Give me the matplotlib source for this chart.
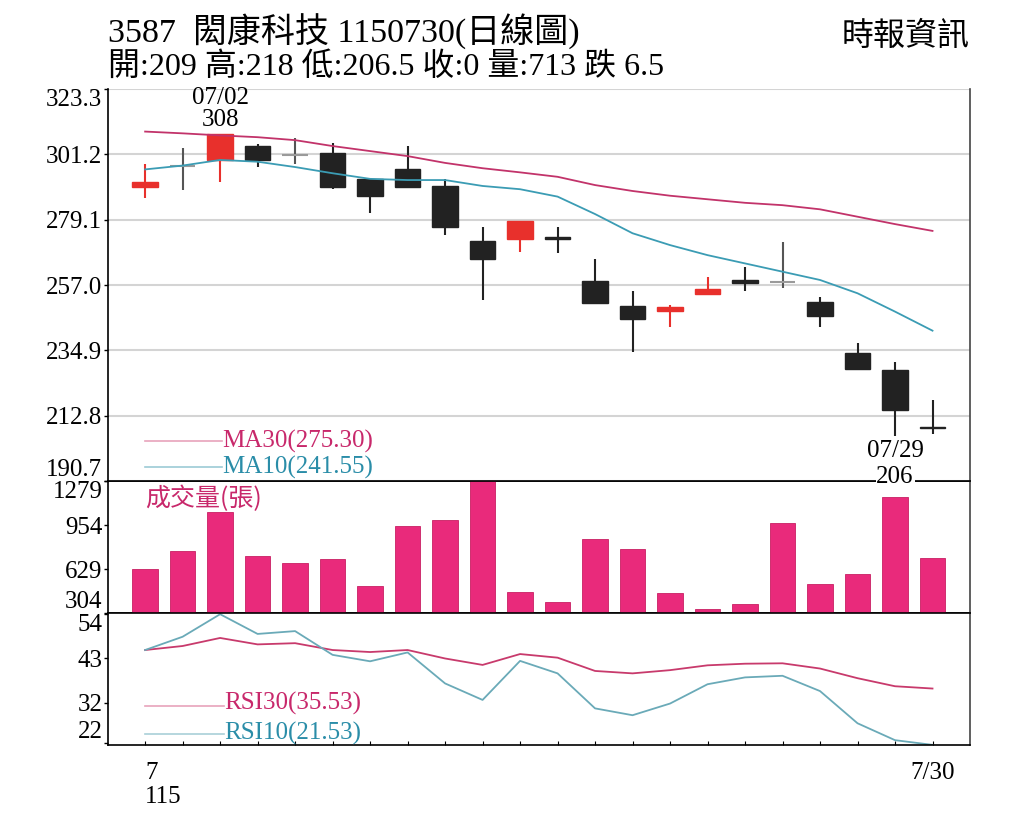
import matplotlib
matplotlib.use('Agg')
import matplotlib.pyplot as plt
import numpy as np

# 3587 閎康科技 daily chart, July (ROC 115)
opens  = [290.3, 297.3, 299.2, 304.0, 301.0, 301.5, 292.9, 296.1, 290.4, 272.0, 272.5,
          273.2, 258.4, 249.9, 248.1, 253.9, 258.7, 258.0, 251.3, 234.1, 228.1, 209.0]
highs  = [298.0, 303.5, 308.0, 304.6, 306.6, 304.9, 292.9, 304.0, 292.9, 276.5, 278.8,
          276.5, 265.8, 255.1, 250.4, 259.8, 263.0, 271.4, 252.8, 237.4, 230.9, 218.0]
lows   = [286.5, 289.0, 291.9, 297.0, 298.0, 289.5, 281.4, 290.2, 273.8, 251.9, 268.3,
          267.8, 250.5, 234.3, 242.8, 253.9, 255.0, 255.9, 242.8, 228.5, 206.0, 206.5]
closes = [291.9, 297.3, 308.0, 299.2, 301.0, 290.2, 287.0, 290.2, 276.6, 265.8, 278.8,
          272.7, 251.0, 245.4, 249.4, 255.5, 257.7, 258.0, 246.4, 228.5, 214.8, 208.6]
ma30 = [308.9, 308.3, 307.6, 307.0, 306.0, 304.0, 302.3, 300.6, 298.3, 296.5, 295.1,
        293.6, 290.8, 288.8, 287.2, 286.0, 284.8, 284.0, 282.6, 280.1, 277.6, 275.3]
ma10 = [296.1, 297.4, 299.3, 298.7, 296.9, 294.8, 292.9, 292.5, 292.5, 290.5, 289.4,
        286.9, 281.0, 274.5, 270.5, 267.1, 264.3, 261.5, 258.7, 254.2, 248.0, 241.55]
volume = [627, 762, 1052, 723, 671, 705, 506, 947, 993, 1279, 457,
          383, 853, 775, 450, 334, 371, 971, 516, 594, 1163, 713]
rsi30 = [45.1, 46.1, 48.1, 46.5, 46.8, 45.1, 44.6, 45.1, 43.0, 41.4, 44.1,
         43.2, 39.9, 39.3, 40.1, 41.3, 41.7, 41.8, 40.5, 38.1, 36.1, 35.53]
rsi10 = [45.1, 48.4, 54.0, 49.1, 49.8, 43.9, 42.3, 44.5, 36.8, 32.7, 42.4,
         39.3, 30.6, 28.9, 31.8, 36.6, 38.3, 38.7, 34.9, 26.9, 22.7, 21.53]

price_ticks = [323.3, 301.2, 279.1, 257.0, 234.9, 212.8, 190.7]
vol_ticks = [1279, 954, 629, 304]
rsi_ticks = [54, 43, 32, 22]

RED = '#e8302c'
BLACK = '#222222'
GRAY = '#9a9a9a'
PINK = '#e92a7b'
MA30_C = '#c2336a'
MA10_C = '#3b9cb4'
plt.rcParams['font.family'] = ['Liberation Serif', 'Noto Sans CJK TC', 'DejaVu Sans']

W, H = 1024, 819
fig = plt.figure(figsize=(W / 100, H / 100), dpi=100)


def px_axes(top, bottom):
    return fig.add_axes([108 / W, 1 - bottom / H, (970 - 108) / W, (bottom - top) / H])


def fig_line(x0, x1, y, color):
    fig.lines.append(plt.Line2D([x0 / W, x1 / W], [1 - y / H, 1 - y / H], color=color,
                                lw=1.2, transform=fig.transFigure, zorder=10))


def fig_label(xp, yp, s, color, **kw):
    fig.text(xp / W, 1 - yp / H, s, color=color, fontsize=18, va='center', ha='left',
             zorder=10, **kw)


ax = px_axes(89, 481)
axv = px_axes(481, 613)
axr = px_axes(613, 745)
ax.set_zorder(3)   # so the low annotation sits over the volume panel's top line

x = np.arange(len(closes))
for a in (ax, axv, axr):
    a.set_xlim(-0.99, 22.0)
    for s in ('left', 'bottom', 'top'):
        a.spines[s].set_color('black')
        a.spines[s].set_linewidth(1.2)
    a.spines['right'].set_color('#444444')
    a.spines['right'].set_linewidth(1.2)
    a.tick_params(axis='y', labelsize=18, length=3, width=1, pad=1)
ax.spines['top'].set_visible(False)

# candles
bw = 0.68
for i in x:
    o, h, l, c = opens[i], highs[i], lows[i], closes[i]
    if c > o:
        col = RED
    elif c < o:
        col = BLACK
    else:
        col = GRAY
    wick = '#555555' if col == GRAY else col
    ax.vlines(i, l, h, color=wick, lw=1.5, zorder=3)
    if col == GRAY:
        ax.hlines(c, i - bw / 2, i + bw / 2, color=GRAY, lw=1.5, zorder=3)
    else:
        ax.bar(i, abs(c - o), bottom=min(o, c), width=bw, color=col,
               edgecolor=col, lw=1.0, zorder=4)

ax.plot(x, ma30, color=MA30_C, lw=1.3, zorder=5)
ax.plot(x, ma10, color=MA10_C, lw=1.3, zorder=5)
ax.set_ylim(price_ticks[-1], price_ticks[0])
ax.set_yticks(price_ticks)
ax.set_yticklabels([f'{t:.1f}' for t in price_ticks])
ax.yaxis.grid(True, color='#d4d4d4', lw=1.5)
ax.set_axisbelow(True)
ax.set_xticks([])

hi = int(np.argmax(highs))
lo = int(np.argmin(lows))
ax.annotate(f'07/02\n{highs[hi]:.0f}', (hi, highs[hi]), xytext=(0, 2),
            textcoords='offset points', ha='center', va='bottom', fontsize=18,
            linespacing=1.05, zorder=6)
ax.annotate('07/29', (lo, lows[lo]), xytext=(0, -3), textcoords='offset points',
            ha='center', va='top', fontsize=18, zorder=6)
ax.annotate(f'{lows[lo]:.0f}', (lo, lows[lo]), xytext=(0, -22), textcoords='offset points',
            ha='center', va='top', fontsize=18, zorder=6, annotation_clip=False,
            bbox=dict(boxstyle='square,pad=0.03', fc='white', ec='none'))

# legend-like labels
fig_line(145, 222, 441, '#e7a3bb')
fig_line(145, 222, 467, '#9ccbd6')
fig_label(222, 441, f'MA30({ma30[-1]:.2f})', '#c8286b')
fig_label(222, 467, f'MA10({ma10[-1]:.2f})', '#2a8da8')

# volume
axv.bar(x, volume, width=bw, color=PINK, edgecolor='#c81f63', lw=0.6, zorder=3)
axv.set_ylim(vol_ticks[-1], vol_ticks[0])
axv.set_yticks(vol_ticks)
axv.set_yticklabels([str(t) for t in vol_ticks])
axv.set_xticks([])
fig_label(145, 499, '成交量(張)', '#c8286b', family=['Noto Sans CJK TC', 'DejaVu Sans'])

# RSI
axr.plot(x, rsi30, color='#c83a6c', lw=1.3)
axr.plot(x, rsi10, color='#6aaab8', lw=1.3)
axr.set_ylim(21.5, 54.3)
axr.set_yticks(rsi_ticks)
axr.set_yticklabels([str(t) for t in rsi_ticks])
fig_line(145, 224, 706, '#e7a3bb')
fig_line(145, 224, 734, '#a9cfd8')
fig_label(224, 703, f'RSI30({rsi30[-1]:.2f})', '#c8286b')
fig_label(224, 733, f'RSI10({rsi10[-1]:.2f})', '#2a8da8')

axr.set_xticks(x)
labels = [''] * len(x)
labels[0] = '7\n115'
labels[-1] = '7/30'
axr.set_xticklabels(labels, fontsize=18, linespacing=1.15)
axr.tick_params(axis='x', length=3, direction='in', pad=12)
xl = axr.get_xticklabels()
xl[0].set_ha('left')
xl[0].set_x(-0.1)

# edge tick labels kept inside their panel
for a in (ax, axv, axr):
    tl = a.get_yticklabels()
    tl[0].set_va('top')
    tl[-1].set_va('bottom')

# header
fig.text(108 / W, 1 - 32 / H, '3587  閎康科技 1150730(日線圖)', fontsize=24.5,
         va='center', ha='left')
fig.text(108 / W, 1 - 67 / H, '開:209 高:218 低:206.5 收:0 量:713 跌 6.5',
         fontsize=23, va='center', ha='left')
fig.text(970 / W, 1 - 36 / H, '時報資訊', fontsize=23, va='center', ha='right',
         family=['Noto Sans CJK TC', 'DejaVu Sans'])

fig.savefig('out.png', dpi=100, facecolor='white')
